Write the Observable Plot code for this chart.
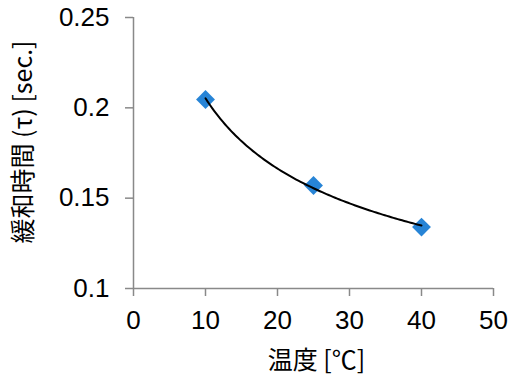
<!DOCTYPE html>
<html>
<head>
<meta charset="utf-8">
<script src="https://cdn.jsdelivr.net/npm/d3@7"></script>
<script src="https://cdn.jsdelivr.net/npm/@observablehq/plot@0.6"></script>
<style>
  html, body { margin: 0; padding: 0; background: #fff; }
  #chart svg { display: block; }
</style>
</head>
<body>
<div id="chart"></div>
<script>
// Data
const temperatures = [10, 25, 40];          // 温度 [℃]
const relaxTimes = [0.2046, 0.157, 0.134];  // 緩和時間 (τ) [sec.]
const xTicks = [0, 10, 20, 30, 40, 50];
const yTicks = [0.1, 0.15, 0.2, 0.25];
const xTitle = "温度 [℃]";
const yTitle = "緩和時間 (τ) [sec.]";

const points = temperatures.map((t, i) => ({t, tau: relaxTimes[i]}));

// Power-law trendline (least squares on log-log), as in the spreadsheet's trendline
const lx = temperatures.map(Math.log), ly = relaxTimes.map(Math.log);
const mx = d3.mean(lx), my = d3.mean(ly);
const b = d3.sum(lx, (v, i) => (v - mx) * (ly[i] - my)) / d3.sum(lx, v => (v - mx) ** 2);
const a = Math.exp(my - b * mx);
const [tMin, tMax] = d3.extent(temperatures);
const trend = d3.range(0, 101).map(k => {
  const t = tMin + (tMax - tMin) * k / 100;
  return {t, tau: a * Math.pow(t, b)};
});

const font = "'Liberation Sans', Arial, 'Noto Sans CJK JP', sans-serif";
const titleFont = "'Noto Sans CJK JP', sans-serif";
const axisColor = "#898989";

const chart = Plot.plot({
  width: 510,
  height: 381,
  marginLeft: 133,
  marginRight: 17,
  marginTop: 17,
  marginBottom: 93,
  style: {fontFamily: font, fontSize: "26px", color: "#000", background: "#fff"},
  x: {domain: [xTicks[0], xTicks[xTicks.length - 1]]},
  y: {domain: [yTicks[0], yTicks[yTicks.length - 1]]},
  marks: [
    Plot.axisX({ticks: xTicks, tickSize: 8, tickPadding: 14, stroke: axisColor, strokeWidth: 1.5, fill: "#000", fontSize: 26, label: null}),
    Plot.axisY({ticks: yTicks, tickSize: 8, tickPadding: 16, stroke: axisColor, strokeWidth: 1.5, fill: "#000", fontSize: 26, label: null, tickFormat: d3.format("~g")}),
    Plot.ruleX([xTicks[0]], {stroke: axisColor, strokeWidth: 1.5}),
    Plot.ruleY([yTicks[0]], {stroke: axisColor, strokeWidth: 1.5}),
    Plot.dot(points, {x: "t", y: "tau", symbol: "diamond2", r: 8.5, fill: "#2784d6", stroke: "none"}),
    Plot.line(trend, {x: "t", y: "tau", stroke: "#000", strokeWidth: 2, curve: "linear"}),
    Plot.text([xTitle], {frameAnchor: "bottom", textAnchor: "middle", dx: 3, dy: 72, fontSize: 25, fontFamily: titleFont, fill: "#000", lineAnchor: "middle"}),
    Plot.text([yTitle], {frameAnchor: "left", textAnchor: "middle", dx: -110, dy: -11, rotate: -90, fontSize: 25, fontFamily: titleFont, fill: "#000", lineAnchor: "middle"})
  ]
});
document.getElementById("chart").appendChild(chart);
</script>
</body>
</html>
